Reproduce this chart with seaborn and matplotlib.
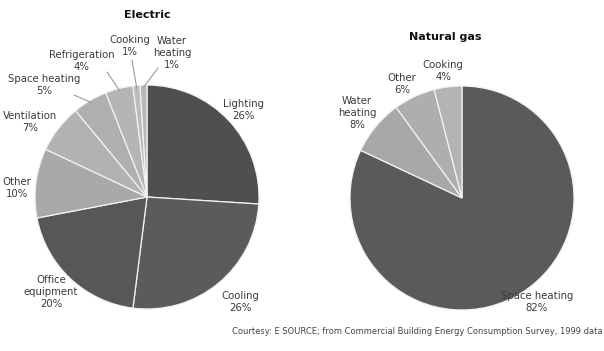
import numpy as np
import matplotlib
matplotlib.use("Agg")
import matplotlib.pyplot as plt
import seaborn as sns

# Electricity end uses (percent of consumption)
elec_labels = ["Lighting", "Cooling", "Office\nequipment", "Other", "Ventilation",
               "Space heating", "Refrigeration", "Cooking", "Water\nheating"]
elec_values = [26, 26, 20, 10, 7, 5, 4, 1, 1]

# Natural gas end uses (percent of consumption)
gas_labels = ["Space heating", "Water\nheating", "Other", "Cooking"]
gas_values = [82, 8, 6, 4]

caption = "Courtesy: E SOURCE; from Commercial Building Energy Consumption Survey, 1999 data"

sns.set_theme(style="white")
plt.rcParams["font.family"] = ["DejaVu Sans"]

W, H = 604, 351
fig = plt.figure(figsize=(W / 100, H / 100), dpi=100)
fig.patch.set_facecolor("white")

dark = sns.color_palette(["#4f4f4f", "#5b5b5b", "#575757"])
light = sns.color_palette(["#a9a9a9", "#b2b2b2", "#afafaf", "#b5b5b5", "#bbbbbb", "#b8b8b8"])
elec_colors = list(dark) + list(light)
gas_colors = sns.color_palette(["#5a5a5a", "#a8a8a8", "#aeaeae", "#b4b4b4"])

TEXT = "#3a3a3a"


def make_axes(cx, cy, r):
    return fig.add_axes([(cx - r) / W, (H - cy - r) / H, 2 * r / W, 2 * r / H])


def finish_axes(ax):
    ax.set_xlim(-1, 1)
    ax.set_ylim(-1, 1)
    ax.set_aspect("equal")
    ax.axis("off")


def px_to_data(cx, cy, r, px, py):
    return (px - cx) / r, (cy - py) / r


def draw_pie(ax, values, colors):
    wedges, _ = ax.pie(values, colors=colors, startangle=90, counterclock=False,
                       radius=1.0, wedgeprops=dict(edgecolor="#f2f2f2", linewidth=0.9))
    finish_axes(ax)
    return wedges


def mid_edge(w, frac=1.0):
    ang = np.deg2rad((w.theta1 + w.theta2) / 2)
    return frac * np.cos(ang), frac * np.sin(ang)


LABEL_KW = dict(ha="center", va="center", fontsize=7.3, color=TEXT,
                linespacing=1.2, clip_on=False)

# --- Electric ---
ecx, ecy, er = 147, 197, 112
ax1 = make_axes(ecx, ecy, er)
wedges_e = draw_pie(ax1, elec_values, elec_colors)
fig.text(147 / W, 1 - 15 / H, "Electric", ha="center", va="center",
         fontsize=8, fontweight="bold", color="#111111")

elec_pos = [(243, 110), (240, 302), (51, 292), (17, 188), (30, 122),
            (44, 85), (82, 61), (130, 46), (172, 53)]
elec_leader = {5: (74, 95), 6: (107, 72), 7: (132, 60), 8: (158, 68)}
for i, (lab, val) in enumerate(zip(elec_labels, elec_values)):
    px, py = elec_pos[i]
    x, y = px_to_data(ecx, ecy, er, px, py)
    ax1.text(x, y, f"{lab}\n{val}%", **LABEL_KW)
    if i in elec_leader:
        lx, ly = px_to_data(ecx, ecy, er, *elec_leader[i])
        ex, ey = mid_edge(wedges_e[i], 0.98)
        ax1.plot([lx, ex], [ly, ey], color="#9a9a9a", lw=0.8, clip_on=False)

# --- Natural gas ---
gcx, gcy, gr = 462, 198, 112
ax2 = make_axes(gcx, gcy, gr)
wedges_g = draw_pie(ax2, gas_values, gas_colors)
fig.text(445 / W, 1 - 37 / H, "Natural gas", ha="center", va="center",
         fontsize=8, fontweight="bold", color="#111111")

gas_pos = [(537, 302), (357, 113), (402, 84), (443, 71)]
for i, (lab, val) in enumerate(zip(gas_labels, gas_values)):
    px, py = gas_pos[i]
    x, y = px_to_data(gcx, gcy, gr, px, py)
    ax2.text(x, y, f"{lab}\n{val}%", **LABEL_KW)

fig.text(602 / W, 1 - 331 / H, caption, ha="right", va="center",
         fontsize=6.0, color="#444444")

fig.savefig("out.png", dpi=100, facecolor="white")
